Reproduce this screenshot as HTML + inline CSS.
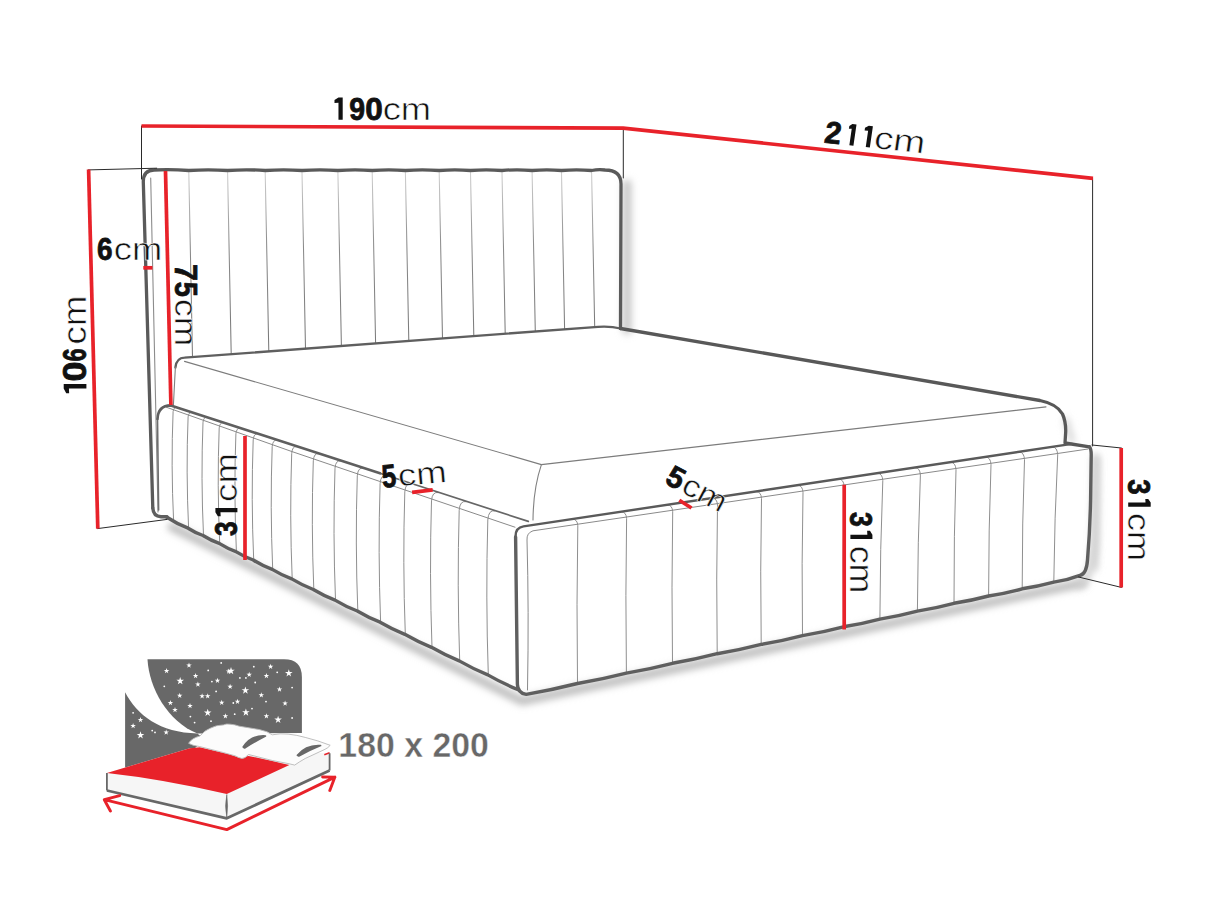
<!DOCTYPE html>
<html><head><meta charset="utf-8"><style>
html,body{margin:0;padding:0;background:#fff;width:1214px;height:911px;overflow:hidden}
svg{display:block}
</style></head><body>
<svg width="1214" height="911" viewBox="0 0 1214 911">
<defs><linearGradient id="hbg" gradientUnits="userSpaceOnUse" x1="0" y1="172" x2="0" y2="340"><stop offset="0" stop-color="#cfcfcf"/><stop offset="0.45" stop-color="#8a8a8a"/><stop offset="1" stop-color="#7a7a7a"/></linearGradient><filter id="blur" filterUnits="userSpaceOnUse" x="0" y="0" width="1214" height="911"><feGaussianBlur stdDeviation="3.5"/></filter>
<path id="st" d="M0,-1 L0.2245,-0.309 L0.9511,-0.309 L0.3633,0.118 L0.5878,0.809 L0,0.382 L-0.5878,0.809 L-0.3633,0.118 L-0.9511,-0.309 L-0.2245,-0.309 Z"/></defs>
<g filter="url(#blur)">
<path d="M172,527 L522,701 L1083,583" fill="none" stroke="#c0c0c0" stroke-width="9" stroke-linecap="round" stroke-linejoin="round" />
<path d="M627,184 L627,330" fill="none" stroke="#c8c8c8" stroke-width="9" stroke-linecap="round" stroke-linejoin="round" />
<path d="M1096,458 L1095,568" fill="none" stroke="#d4d4d4" stroke-width="6" stroke-linecap="round" stroke-linejoin="round" />
</g>
<path d="M188.8,172.5 L192.5,357.2" fill="none" stroke="url(#hbg)" stroke-width="1.05" stroke-linecap="round" stroke-linejoin="round" />
<path d="M227.6,172.5 L231.2,354.3" fill="none" stroke="url(#hbg)" stroke-width="1.05" stroke-linecap="round" stroke-linejoin="round" />
<path d="M265.2,172.5 L268.8,351.5" fill="none" stroke="url(#hbg)" stroke-width="1.05" stroke-linecap="round" stroke-linejoin="round" />
<path d="M302.0,172.5 L305.5,348.7" fill="none" stroke="url(#hbg)" stroke-width="1.05" stroke-linecap="round" stroke-linejoin="round" />
<path d="M337.9,172.5 L341.4,346.0" fill="none" stroke="url(#hbg)" stroke-width="1.05" stroke-linecap="round" stroke-linejoin="round" />
<path d="M372.2,172.5 L375.6,343.4" fill="none" stroke="url(#hbg)" stroke-width="1.05" stroke-linecap="round" stroke-linejoin="round" />
<path d="M405.4,172.5 L408.8,340.9" fill="none" stroke="url(#hbg)" stroke-width="1.05" stroke-linecap="round" stroke-linejoin="round" />
<path d="M439.2,172.5 L442.5,338.4" fill="none" stroke="url(#hbg)" stroke-width="1.05" stroke-linecap="round" stroke-linejoin="round" />
<path d="M470.5,172.5 L473.8,336.0" fill="none" stroke="url(#hbg)" stroke-width="1.05" stroke-linecap="round" stroke-linejoin="round" />
<path d="M502.0,172.5 L505.2,333.6" fill="none" stroke="url(#hbg)" stroke-width="1.05" stroke-linecap="round" stroke-linejoin="round" />
<path d="M532.1,172.5 L535.3,331.4" fill="none" stroke="url(#hbg)" stroke-width="1.05" stroke-linecap="round" stroke-linejoin="round" />
<path d="M561.5,172.5 L564.6,329.2" fill="none" stroke="url(#hbg)" stroke-width="1.05" stroke-linecap="round" stroke-linejoin="round" />
<path d="M591.6,172.5 L594.7,326.9" fill="none" stroke="url(#hbg)" stroke-width="1.05" stroke-linecap="round" stroke-linejoin="round" />
<path d="M150.7,178 L158,512" fill="none" stroke="#8c8c8c" stroke-width="1.1" stroke-linecap="round" stroke-linejoin="round" />
<path d="M152.8,508 L143.3,182 Q143.2,170.2 154,170 Q170.9,169.1 188.8,170.5 Q208.2,169.1 227.6,170.5 Q246.4,169.1 265.2,170.5 Q283.6,169.1 302.0,170.5 Q319.9,169.1 337.9,170.5 Q355.0,169.1 372.2,170.5 Q388.8,169.1 405.4,170.5 Q422.3,169.1 439.2,170.5 Q454.9,169.1 470.5,170.5 Q486.2,169.1 502.0,170.5 Q517.0,169.1 532.1,170.5 Q546.8,169.1 561.5,170.5 Q576.5,169.1 591.6,170.5 Q598.3,169.1 605.0,170 Q621,170 621,184 L620.5,328.5" fill="none" stroke="#5a5a5a" stroke-width="3.3" stroke-linecap="round" stroke-linejoin="round" />
<path d="M152.8,508 Q153.3,516.5 161,516.8 L167,516.8" fill="none" stroke="#5f5f5f" stroke-width="3.4" stroke-linecap="round" stroke-linejoin="round" />
<g filter="url(#blur)">
<path d="M1066,420 Q1070,436 1072,440" fill="none" stroke="#d6d6d6" stroke-width="6" stroke-linecap="round" stroke-linejoin="round" />
</g>
<path d="M175.4,367.5 Q176.5,357.9 184.5,357.7 L598,326.8 Q611,326 620.5,328.5" fill="none" stroke="#5f5f5f" stroke-width="2.3" stroke-linecap="round" stroke-linejoin="round" />
<path d="M620.5,328.5 L1040,400.5 Q1057,404 1062.5,414 Q1066,422 1065.7,432 L1065,443 L1089.5,446.9" fill="none" stroke="#585858" stroke-width="3.3" stroke-linecap="round" stroke-linejoin="round" />
<path d="M175.4,367 L173.4,405" fill="none" stroke="#808080" stroke-width="1.1" stroke-linecap="round" stroke-linejoin="round" />
<path d="M184.5,361.4 L541.4,464.6 L1046,406.9" fill="none" stroke="#7c7c7c" stroke-width="1.1" stroke-linecap="round" stroke-linejoin="round" />
<path d="M541.4,464.6 C536.5,479 533.2,500 533,520" fill="none" stroke="#808080" stroke-width="1.1" stroke-linecap="round" stroke-linejoin="round" />
<path d="M173.6,520.8 Q170.9,465.2 173.1,411.6 Q173.7,407.3 176.1,407.4" fill="none" stroke="#8f8f8f" stroke-width="1" stroke-linecap="round" stroke-linejoin="round" />
<path d="M188.6,528.2 Q185.9,471.5 188.1,416.9 Q188.7,412.2 191.4,412.4" fill="none" stroke="#8f8f8f" stroke-width="1" stroke-linecap="round" stroke-linejoin="round" />
<path d="M203.5,535.5 Q200.8,477.8 203.0,422.2 Q203.6,417.0 206.5,417.3" fill="none" stroke="#8f8f8f" stroke-width="1" stroke-linecap="round" stroke-linejoin="round" />
<path d="M219.7,543.4 Q217.0,484.6 219.2,427.9 Q219.8,422.3 222.9,422.6" fill="none" stroke="#8f8f8f" stroke-width="1" stroke-linecap="round" stroke-linejoin="round" />
<path d="M236.4,551.6 Q233.7,491.7 235.9,433.8 Q236.5,427.7 239.9,428.1" fill="none" stroke="#8f8f8f" stroke-width="1" stroke-linecap="round" stroke-linejoin="round" />
<path d="M253.7,560.0 Q251.0,499.0 253.2,439.9 Q253.8,433.3 257.4,433.8" fill="none" stroke="#8f8f8f" stroke-width="1" stroke-linecap="round" stroke-linejoin="round" />
<path d="M272.7,569.4 Q270.0,507.0 272.2,446.6 Q272.8,439.5 276.7,440.1" fill="none" stroke="#8f8f8f" stroke-width="1" stroke-linecap="round" stroke-linejoin="round" />
<path d="M292.2,578.9 Q289.5,515.2 291.7,453.5 Q292.3,445.8 296.5,446.5" fill="none" stroke="#8f8f8f" stroke-width="1" stroke-linecap="round" stroke-linejoin="round" />
<path d="M313.8,589.5 Q311.1,524.1 313.3,460.8 Q313.9,452.8 318.4,453.6" fill="none" stroke="#8f8f8f" stroke-width="1" stroke-linecap="round" stroke-linejoin="round" />
<path d="M335.5,600.1 Q332.8,533.1 335.0,468.2 Q335.6,459.9 340.5,460.8" fill="none" stroke="#8f8f8f" stroke-width="1" stroke-linecap="round" stroke-linejoin="round" />
<path d="M357.8,611.0 Q355.1,542.4 357.3,475.8 Q357.9,467.1 363.1,468.1" fill="none" stroke="#8f8f8f" stroke-width="1" stroke-linecap="round" stroke-linejoin="round" />
<path d="M380.6,622.2 Q377.9,551.9 380.1,483.5 Q380.7,474.5 386.3,475.6" fill="none" stroke="#8f8f8f" stroke-width="1" stroke-linecap="round" stroke-linejoin="round" />
<path d="M405.3,634.3 Q402.6,562.1 404.8,491.9 Q405.4,482.5 411.3,483.7" fill="none" stroke="#8f8f8f" stroke-width="1" stroke-linecap="round" stroke-linejoin="round" />
<path d="M432.0,647.3 Q429.3,573.1 431.5,500.9 Q432.1,491.2 438.4,492.5" fill="none" stroke="#8f8f8f" stroke-width="1" stroke-linecap="round" stroke-linejoin="round" />
<path d="M459.7,660.9 Q457.0,584.6 459.2,510.3 Q459.8,500.2 466.2,501.6" fill="none" stroke="#8f8f8f" stroke-width="1" stroke-linecap="round" stroke-linejoin="round" />
<path d="M488.3,674.9 Q485.6,596.5 487.8,520.0 Q488.4,509.5 494.8,510.8" fill="none" stroke="#8f8f8f" stroke-width="1" stroke-linecap="round" stroke-linejoin="round" />
<path d="M166,407.1 L290,450.9 L380,481.5 L515,527.2" fill="none" stroke="#8a8a8a" stroke-width="1" stroke-linecap="round" stroke-linejoin="round" />
<path d="M157.5,419 L158.6,510" fill="none" stroke="#6e6e6e" stroke-width="1.6" stroke-linecap="round" stroke-linejoin="round" />
<path d="M157.5,419 Q158,405.6 170.8,405.4 L380,473.3" fill="none" stroke="#5f5f5f" stroke-width="2.6" stroke-linecap="round" stroke-linejoin="round" />
<path d="M380,473.3 L528.3,521.4" fill="none" stroke="#666" stroke-width="1.7" stroke-linecap="round" stroke-linejoin="round" />
<path d="M166.5,517 Q177.3,524.1 188.1,528.2 Q195.6,533.0 203.0,535.5 Q211.1,540.6 219.2,543.4 Q227.6,548.7 235.9,551.6 Q244.6,557.0 253.2,560.0 Q262.7,565.9 272.2,569.4 Q281.9,575.3 291.7,578.9 Q302.5,585.4 313.3,589.5 Q324.1,596.0 335.0,600.1 Q346.1,606.8 357.3,611.0 Q368.7,617.8 380.1,622.2 Q392.5,629.4 404.8,634.3 Q418.1,642.0 431.5,647.3 Q445.4,655.3 459.2,660.9 Q473.5,669.1 487.8,674.9 Q502.6,683.4 517.5,689.4" fill="none" stroke="#5f5f5f" stroke-width="3.4" stroke-linecap="round" stroke-linejoin="round" />
<g filter="url(#blur)">
<path d="M1096,458 L1095,540 Q1093,575 1080,585" fill="none" stroke="#d0d0d0" stroke-width="7" stroke-linecap="round" stroke-linejoin="round" />
</g>
<path d="M577.5,683.5 Q576.4,603.8 577.8,525.7 Q577.4,519.2 572.8,519.2" fill="none" stroke="#8f8f8f" stroke-width="1" stroke-linecap="round" stroke-linejoin="round" />
<path d="M626.4,673.1 Q625.3,595.0 626.6,518.5 Q626.2,511.9 621.6,511.8" fill="none" stroke="#8f8f8f" stroke-width="1" stroke-linecap="round" stroke-linejoin="round" />
<path d="M672.5,663.3 Q671.4,586.7 672.7,511.7 Q672.3,505.0 667.7,504.9" fill="none" stroke="#8f8f8f" stroke-width="1" stroke-linecap="round" stroke-linejoin="round" />
<path d="M717.2,653.7 Q716.1,578.6 717.5,505.0 Q717.1,498.2 712.5,498.2" fill="none" stroke="#8f8f8f" stroke-width="1" stroke-linecap="round" stroke-linejoin="round" />
<path d="M761.2,644.4 Q760.1,570.7 761.5,498.5 Q761.1,491.6 756.5,491.6" fill="none" stroke="#8f8f8f" stroke-width="1" stroke-linecap="round" stroke-linejoin="round" />
<path d="M802.5,635.6 Q801.5,563.2 803.0,492.4 Q802.6,485.4 798.0,485.3" fill="none" stroke="#8f8f8f" stroke-width="1" stroke-linecap="round" stroke-linejoin="round" />
<path d="M843.5,626.8 Q842.6,555.8 844.1,486.3 Q843.7,479.2 839.1,479.1" fill="none" stroke="#8f8f8f" stroke-width="1" stroke-linecap="round" stroke-linejoin="round" />
<path d="M879.9,619.1 Q880.1,549.1 882.8,480.6 Q882.4,473.4 877.8,473.3" fill="none" stroke="#8f8f8f" stroke-width="1" stroke-linecap="round" stroke-linejoin="round" />
<path d="M917.4,611.1 Q917.7,542.3 920.4,475.1 Q920.0,467.7 915.4,467.7" fill="none" stroke="#8f8f8f" stroke-width="1" stroke-linecap="round" stroke-linejoin="round" />
<path d="M954.0,603.3 Q953.8,535.8 956.0,469.8 Q955.6,462.4 951.0,462.3" fill="none" stroke="#8f8f8f" stroke-width="1" stroke-linecap="round" stroke-linejoin="round" />
<path d="M988.6,596.0 Q988.6,529.6 991.0,464.6 Q990.6,457.1 986.0,457.1" fill="none" stroke="#8f8f8f" stroke-width="1" stroke-linecap="round" stroke-linejoin="round" />
<path d="M1022.2,588.8 Q1022.1,523.5 1024.5,459.7 Q1024.1,452.1 1019.5,452.0" fill="none" stroke="#8f8f8f" stroke-width="1" stroke-linecap="round" stroke-linejoin="round" />
<path d="M1053.8,582.1 Q1054.5,517.7 1057.7,454.8 Q1057.3,447.1 1052.7,447.0" fill="none" stroke="#8f8f8f" stroke-width="1" stroke-linecap="round" stroke-linejoin="round" />
<path d="M527.5,690 Q529,610 527,540 Q526.5,533 533,530.8 L1088,449" fill="none" stroke="#8a8a8a" stroke-width="1" stroke-linecap="round" stroke-linejoin="round" />
<path d="M515.6,537 Q515.2,527.6 523.5,526.4 L1072,443.9" fill="none" stroke="#5a5a5a" stroke-width="2.4" stroke-linecap="round" stroke-linejoin="round" />
<path d="M1089.5,446.9 Q1091.4,449 1091.2,456 L1090.6,500 Q1090,530 1087.5,560 Q1086.5,574 1080,575.3 Q1066.9,580.3 1053.8,582.1 Q1038.0,586.4 1022.2,588.8 Q1005.4,593.4 988.6,596.0 Q971.3,600.6 954.0,603.3 Q935.7,608.2 917.4,611.1 Q898.6,616.1 879.9,619.1 Q861.7,624.0 843.5,626.8 Q823.0,632.2 802.5,635.6 Q781.9,641.0 761.2,644.4 Q739.2,650.1 717.2,653.7 Q694.9,659.5 672.5,663.3 Q649.5,669.2 626.4,673.1 Q602.0,679.3 577.5,683.5 Q551.9,689.9 526.2,694.4 Q517.6,693 517.4,684.4 L515.6,537" fill="none" stroke="#5f5f5f" stroke-width="3.4" stroke-linecap="round" stroke-linejoin="round" />
<path d="M141.5,126 L141.5,179" fill="none" stroke="#2a2a2a" stroke-width="1" stroke-linecap="round" stroke-linejoin="round" />
<path d="M623.3,128.3 L623.3,178" fill="none" stroke="#2a2a2a" stroke-width="1" stroke-linecap="round" stroke-linejoin="round" />
<path d="M1092.6,178.3 L1092.6,446" fill="none" stroke="#2a2a2a" stroke-width="1" stroke-linecap="round" stroke-linejoin="round" />
<path d="M88.3,169.9 L156.7,168.2" fill="none" stroke="#2a2a2a" stroke-width="1" stroke-linecap="round" stroke-linejoin="round" />
<path d="M97.6,528.6 L167.1,519.4" fill="none" stroke="#2a2a2a" stroke-width="1" stroke-linecap="round" stroke-linejoin="round" />
<path d="M1092,445 L1121.4,448" fill="none" stroke="#2a2a2a" stroke-width="1" stroke-linecap="round" stroke-linejoin="round" />
<path d="M1078.5,577 L1121.4,587.4" fill="none" stroke="#2a2a2a" stroke-width="1" stroke-linecap="round" stroke-linejoin="round" />
<path d="M141.5,126 L623.2,128.2 L1093,178.3" fill="none" stroke="#e8222a" stroke-width="3.7" stroke-linejoin="miter"/>
<path d="M88.6,169.5 L97.8,528.6" fill="none" stroke="#e8222a" stroke-width="3.7" stroke-linejoin="miter"/>
<path d="M165.5,171 L170.9,405" fill="none" stroke="#e8222a" stroke-width="3.7" stroke-linejoin="miter"/>
<path d="M143.3,267.8 L152.5,267.8" fill="none" stroke="#e8222a" stroke-width="3.7" stroke-linejoin="miter"/>
<path d="M245,436 L245,560" fill="none" stroke="#e8222a" stroke-width="3.7" stroke-linejoin="miter"/>
<path d="M412.1,492.4 L432.7,489.9" fill="none" stroke="#e8222a" stroke-width="3.7" stroke-linejoin="miter"/>
<path d="M679.3,500.3 L691.5,508" fill="none" stroke="#e8222a" stroke-width="3.7" stroke-linejoin="miter"/>
<path d="M844.2,484.7 L844.2,629.6" fill="none" stroke="#e8222a" stroke-width="3.7" stroke-linejoin="miter"/>
<path d="M1121.2,448 L1121.2,587.4" fill="none" stroke="#e8222a" stroke-width="3.7" stroke-linejoin="miter"/>
<path transform="translate(334.50,119.80) rotate(0) translate(0.00,0)" d="M0,-19.76 L3.98,-22.20 L8.20,-22.20 L8.20,0 L3.98,0 L3.98,-17.09 L0,-16.87 Z" fill="#111"/>
<text transform="translate(334.50,119.80) rotate(0) translate(15.80,0) scale(0.8961,1) translate(-1.10,0)" x="0" y="0" font-family="Liberation Sans, sans-serif" font-weight="bold" font-size="31.79" fill="#111" stroke="#111" stroke-width="0.8" stroke-linejoin="round">9</text>
<text transform="translate(334.50,119.80) rotate(0) translate(31.90,0) scale(0.9920,1) translate(-1.26,0)" x="0" y="0" font-family="Liberation Sans, sans-serif" font-weight="bold" font-size="31.79" fill="#111" stroke="#111" stroke-width="0.8" stroke-linejoin="round">0</text>
<text transform="translate(334.50,119.80) rotate(0) translate(49.70,0) scale(1.1850,1) translate(-1.30,0)" x="0" y="0" font-family="Liberation Sans, sans-serif" font-weight="normal" font-size="30.66" fill="#111" stroke="#fff" stroke-width="0.55" paint-order="normal">cm</text>
<text transform="translate(824.20,142.60) rotate(6.2) skewX(-2) translate(0.20,0) scale(0.9602,1) translate(-1.07,0)" x="0" y="0" font-family="Liberation Sans, sans-serif" font-weight="bold" font-size="30.93" fill="#111" stroke="#111" stroke-width="0.8" stroke-linejoin="round">2</text>
<path transform="translate(824.20,142.60) rotate(6.2) skewX(-2) translate(22.50,0)" d="M0,-19.22 L2.80,-21.60 L6.90,-21.60 L6.90,0 L2.80,0 L2.80,-16.63 L0,-16.42 Z" fill="#111"/>
<path transform="translate(824.20,142.60) rotate(6.2) skewX(-2) translate(38.30,0)" d="M0,-19.22 L3.50,-21.60 L7.60,-21.60 L7.60,0 L3.50,0 L3.50,-16.63 L0,-16.42 Z" fill="#111"/>
<text transform="translate(824.20,142.60) rotate(6.2) skewX(-2) translate(50.60,0) scale(1.2293,1) translate(-1.33,0)" x="0" y="0" font-family="Liberation Sans, sans-serif" font-weight="normal" font-size="31.22" fill="#111" stroke="#fff" stroke-width="0.55" paint-order="normal">cm</text>
<text transform="translate(97.90,260.20) rotate(0) translate(0.00,0) scale(0.8705,1) translate(-1.17,0)" x="0" y="0" font-family="Liberation Sans, sans-serif" font-weight="bold" font-size="32.08" fill="#111" stroke="#111" stroke-width="0.8" stroke-linejoin="round">6</text>
<text transform="translate(97.90,260.20) rotate(0) translate(17.50,0) scale(1.1850,1) translate(-1.30,0)" x="0" y="0" font-family="Liberation Sans, sans-serif" font-weight="normal" font-size="30.66" fill="#111" stroke="#fff" stroke-width="0.55" paint-order="normal">cm</text>
<text transform="translate(175.40,265.40) rotate(90) translate(0.00,0) scale(0.9752,1) translate(-1.34,0)" x="0" y="0" font-family="Liberation Sans, sans-serif" font-weight="bold" font-size="31.25" fill="#111" stroke="#111" stroke-width="0.8" stroke-linejoin="round">7</text>
<text transform="translate(175.40,265.40) rotate(90) translate(17.10,0) scale(0.8682,1) translate(-0.96,0)" x="0" y="0" font-family="Liberation Sans, sans-serif" font-weight="bold" font-size="31.25" fill="#111" stroke="#111" stroke-width="0.8" stroke-linejoin="round">5</text>
<text transform="translate(175.40,265.40) rotate(90) translate(35.20,0) scale(1.1087,1) translate(-1.36,0)" x="0" y="0" font-family="Liberation Sans, sans-serif" font-weight="normal" font-size="31.97" fill="#111" stroke="#fff" stroke-width="0.55" paint-order="normal">cm</text>
<path transform="translate(86.40,393.30) rotate(-90) translate(0.00,0)" d="M0,-20.20 L4.89,-22.70 L9.20,-22.70 L9.20,0 L4.89,0 L4.89,-17.48 L0,-17.25 Z" fill="#111"/>
<text transform="translate(86.40,393.30) rotate(-90) translate(13.20,0) scale(1.1060,1) translate(-1.29,0)" x="0" y="0" font-family="Liberation Sans, sans-serif" font-weight="bold" font-size="32.51" fill="#111" stroke="#111" stroke-width="0.8" stroke-linejoin="round">0</text>
<text transform="translate(86.40,393.30) rotate(-90) translate(32.90,0) scale(0.7127,1) translate(-1.19,0)" x="0" y="0" font-family="Liberation Sans, sans-serif" font-weight="bold" font-size="32.51" fill="#111" stroke="#111" stroke-width="0.8" stroke-linejoin="round">6</text>
<text transform="translate(86.40,393.30) rotate(-90) translate(50.10,0) scale(1.1399,1) translate(-1.38,0)" x="0" y="0" font-family="Liberation Sans, sans-serif" font-weight="normal" font-size="32.52" fill="#111" stroke="#fff" stroke-width="0.55" paint-order="normal">cm</text>
<text transform="translate(237.40,535.50) rotate(-90) translate(0.00,0) scale(0.8364,1) translate(-0.72,0)" x="0" y="0" font-family="Liberation Sans, sans-serif" font-weight="bold" font-size="31.51" fill="#111" stroke="#111" stroke-width="0.8" stroke-linejoin="round">3</text>
<path transform="translate(237.40,535.50) rotate(-90) translate(19.20,0)" d="M0,-19.58 L4.02,-22.00 L8.20,-22.00 L8.20,0 L4.02,0 L4.02,-16.94 L0,-16.72 Z" fill="#111"/>
<text transform="translate(237.40,535.50) rotate(-90) translate(35.10,0) scale(1.1983,1) translate(-1.30,0)" x="0" y="0" font-family="Liberation Sans, sans-serif" font-weight="normal" font-size="30.66" fill="#111" stroke="#fff" stroke-width="0.55" paint-order="normal">cm</text>
<text transform="translate(383.60,487.60) rotate(-5.2) translate(0.00,0) scale(0.7972,1) translate(-0.99,0)" x="0" y="0" font-family="Liberation Sans, sans-serif" font-weight="bold" font-size="32.27" fill="#111" stroke="#111" stroke-width="0.8" stroke-linejoin="round">5</text>
<text transform="translate(383.60,487.60) rotate(-5.2) translate(16.80,0) scale(1.1983,1) translate(-1.30,0)" x="0" y="0" font-family="Liberation Sans, sans-serif" font-weight="normal" font-size="30.66" fill="#111" stroke="#fff" stroke-width="0.55" paint-order="normal">cm</text>
<text transform="translate(664.50,483.30) rotate(28) translate(0.00,0) scale(0.9886,1) translate(-0.93,0)" x="0" y="0" font-family="Liberation Sans, sans-serif" font-weight="bold" font-size="30.09" fill="#111" stroke="#111" stroke-width="0.8" stroke-linejoin="round">5</text>
<text transform="translate(664.50,483.30) rotate(28) translate(18.70,0) scale(1.1318,1) translate(-1.30,0)" x="0" y="0" font-family="Liberation Sans, sans-serif" font-weight="normal" font-size="30.66" fill="#111" stroke="#fff" stroke-width="0.55" paint-order="normal">cm</text>
<text transform="translate(850.40,512.60) rotate(90) translate(0.00,0) scale(0.8428,1) translate(-0.72,0)" x="0" y="0" font-family="Liberation Sans, sans-serif" font-weight="bold" font-size="31.51" fill="#111" stroke="#111" stroke-width="0.8" stroke-linejoin="round">3</text>
<path transform="translate(850.40,512.60) rotate(90) translate(18.10,0)" d="M0,-19.58 L4.12,-22.00 L8.30,-22.00 L8.30,0 L4.12,0 L4.12,-16.94 L0,-16.72 Z" fill="#111"/>
<text transform="translate(850.40,512.60) rotate(90) translate(34.60,0) scale(1.1086,1) translate(-1.37,0)" x="0" y="0" font-family="Liberation Sans, sans-serif" font-weight="normal" font-size="32.34" fill="#111" stroke="#fff" stroke-width="0.55" paint-order="normal">cm</text>
<text transform="translate(1128.20,479.90) rotate(90) translate(0.00,0) scale(0.8553,1) translate(-0.74,0)" x="0" y="0" font-family="Liberation Sans, sans-serif" font-weight="bold" font-size="32.22" fill="#111" stroke="#111" stroke-width="0.8" stroke-linejoin="round">3</text>
<path transform="translate(1128.20,479.90) rotate(90) translate(19.20,0)" d="M0,-20.02 L3.42,-22.50 L7.70,-22.50 L7.70,0 L3.42,0 L3.42,-17.32 L0,-17.10 Z" fill="#111"/>
<text transform="translate(1128.20,479.90) rotate(90) translate(34.60,0) scale(1.1476,1) translate(-1.34,0)" x="0" y="0" font-family="Liberation Sans, sans-serif" font-weight="normal" font-size="31.59" fill="#111" stroke="#fff" stroke-width="0.55" paint-order="normal">cm</text>
<text transform="translate(340.50,757.10) rotate(0) translate(0.00,0) scale(0.9526,1) translate(-2.24,0)" x="0" y="0" font-family="Liberation Sans, sans-serif" font-weight="bold" font-size="35.52" fill="#686868" stroke="#fff" stroke-width="0.4">180 x 200</text>
<path d="M147.5,659.2 L284,659.2 Q301.9,659.2 301.9,677 L301.9,733 L197.4,733.4 C168,722 149,688 147.5,659.2 Z" fill="#686868"/>
<path d="M125.1,692.3 C137,715 160,733 197.4,733.4 L205,740 L195,748 L125.1,768 Z" fill="#686868"/>
<use href="#st" transform="translate(189.0,665.3) scale(2.9)" fill="#fff"/>
<circle cx="221.2" cy="662.9" r="0.9" fill="#fff"/>
<use href="#st" transform="translate(166.6,670.9) scale(2.9)" fill="#fff"/>
<circle cx="208.2" cy="670.4" r="0.9" fill="#fff"/>
<use href="#st" transform="translate(228.7,671.3) scale(2.9)" fill="#fff"/>
<use href="#st" transform="translate(180.2,681.1) scale(4.0)" fill="#fff"/>
<use href="#st" transform="translate(195.6,676) scale(2.9)" fill="#fff"/>
<use href="#st" transform="translate(197.9,684.4) scale(2.9)" fill="#fff"/>
<use href="#st" transform="translate(217.5,680.7) scale(2.9)" fill="#fff"/>
<circle cx="211.9" cy="681.6" r="0.9" fill="#fff"/>
<circle cx="164.3" cy="686.3" r="0.9" fill="#fff"/>
<circle cx="216.1" cy="691.4" r="0.9" fill="#fff"/>
<use href="#st" transform="translate(179.7,695.6) scale(2.9)" fill="#fff"/>
<use href="#st" transform="translate(202.1,696.1) scale(2.9)" fill="#fff"/>
<use href="#st" transform="translate(207.7,696.1) scale(2.9)" fill="#fff"/>
<use href="#st" transform="translate(170.4,703) scale(2.9)" fill="#fff"/>
<use href="#st" transform="translate(221.7,702.6) scale(2.9)" fill="#fff"/>
<use href="#st" transform="translate(190,705.8) scale(2.9)" fill="#fff"/>
<use href="#st" transform="translate(175,710) scale(2.9)" fill="#fff"/>
<use href="#st" transform="translate(207.7,712.8) scale(4.0)" fill="#fff"/>
<circle cx="190.4" cy="716.6" r="0.9" fill="#fff"/>
<use href="#st" transform="translate(225.4,716.1) scale(2.9)" fill="#fff"/>
<circle cx="194.6" cy="722.6" r="0.9" fill="#fff"/>
<circle cx="211" cy="721.2" r="0.9" fill="#fff"/>
<circle cx="133.1" cy="712.8" r="0.9" fill="#fff"/>
<use href="#st" transform="translate(140.5,719.8) scale(2.9)" fill="#fff"/>
<use href="#st" transform="translate(133.1,725.9) scale(2.9)" fill="#fff"/>
<circle cx="152.2" cy="730.6" r="0.9" fill="#fff"/>
<circle cx="155" cy="732.4" r="0.9" fill="#fff"/>
<use href="#st" transform="translate(166.2,732.4) scale(2.9)" fill="#fff"/>
<use href="#st" transform="translate(140.5,735.2) scale(4.0)" fill="#fff"/>
<use href="#st" transform="translate(231,670.9) scale(4.0)" fill="#fff"/>
<circle cx="253.8" cy="666.7" r="0.9" fill="#fff"/>
<use href="#st" transform="translate(270.6,666.7) scale(2.9)" fill="#fff"/>
<circle cx="277.2" cy="672.3" r="0.9" fill="#fff"/>
<use href="#st" transform="translate(288.8,673.2) scale(4.0)" fill="#fff"/>
<use href="#st" transform="translate(249.2,674.6) scale(2.9)" fill="#fff"/>
<circle cx="239.9" cy="677.9" r="0.9" fill="#fff"/>
<circle cx="245.9" cy="677.9" r="0.9" fill="#fff"/>
<use href="#st" transform="translate(266.4,676) scale(2.9)" fill="#fff"/>
<circle cx="255.2" cy="682.5" r="0.9" fill="#fff"/>
<use href="#st" transform="translate(230.1,686.7) scale(2.9)" fill="#fff"/>
<use href="#st" transform="translate(245.4,690.4) scale(4.0)" fill="#fff"/>
<use href="#st" transform="translate(279.5,689.5) scale(2.9)" fill="#fff"/>
<circle cx="292.1" cy="687.6" r="0.9" fill="#fff"/>
<use href="#st" transform="translate(261.3,695.1) scale(2.9)" fill="#fff"/>
<circle cx="233.3" cy="703" r="0.9" fill="#fff"/>
<use href="#st" transform="translate(237.5,701.6) scale(2.9)" fill="#fff"/>
<circle cx="266" cy="701.6" r="0.9" fill="#fff"/>
<use href="#st" transform="translate(285.1,703.5) scale(2.9)" fill="#fff"/>
<circle cx="252" cy="708.6" r="0.9" fill="#fff"/>
<use href="#st" transform="translate(245.9,712.4) scale(4.0)" fill="#fff"/>
<circle cx="234.7" cy="714.2" r="0.9" fill="#fff"/>
<use href="#st" transform="translate(266.4,716.1) scale(2.9)" fill="#fff"/>
<use href="#st" transform="translate(278.1,719.8) scale(4.0)" fill="#fff"/>
<circle cx="292.1" cy="718" r="0.9" fill="#fff"/>
<path d="M106.9,773 L189.7,748.2 L329.6,753.2 L329.6,770.4 L226.8,818.3 L106.9,790.5 Z" fill="#f6f6f6"/>
<path d="M106.9,773 L189.7,748.2 L199.8,747.3 L230.1,754.5 L239.3,757.8 L248.5,755.9 L272.3,761.1 L289.4,765.1 L226.8,794 Q162,779 106.9,773 Z" fill="#e8222a"/>
<path d="M324.3,754.8 L329.6,752.8" stroke="#e8222a" stroke-width="1.5"/>
<path d="M106.9,790.5 L226.8,818.3 L329.6,770.4" fill="none" stroke="#686868" stroke-width="2.8" stroke-linejoin="round"/>
<path d="M106.9,773 L106.9,790.5 M329.6,770.4 L329.6,753.2" fill="none" stroke="#686868" stroke-width="1.8"/>
<path d="M226.8,794.5 Q224.4,806 226.8,817.5 Q228.4,806 226.8,794.5 Z" fill="#686868" stroke="#686868" stroke-width="0.6"/>
<path d="M188.6,743.3 Q192,738 199.8,736.1 Q205,730 210.3,728.2 Q216,725 223.5,724.9 Q226,723.6 230.1,724.2 Q235,724.5 239.3,726.2 L259.1,729.5 Q267,731 272.3,734.8 Q280,733.2 288.1,734.1 Q297,735 305.2,737.4 Q318,740.5 330.2,745.3 Q328,748 325,749.3 L305.2,758.5 Q299,762 294.7,765.1 Q292,764.5 289.4,763.8 L272.3,760.5 L248.5,754.5 Q245,758.6 241.9,758.5 Q238,757.5 235.4,755.9 L223.5,752.6 L199.8,746.6 Q192,745.5 188.6,743.3 Z" fill="#fcfcfc" stroke="#b8b8b8" stroke-width="0.9"/>
<path d="M243.2,747 Q251,735 265.5,736 Q253,742.5 244.6,748 Z" fill="#686868" stroke="#686868" stroke-width="1.6" stroke-linejoin="round"/>
<path d="M297.4,755.3 Q306,744.6 320.6,745.6 Q308,750.8 298.8,756 Z" fill="#686868" stroke="#686868" stroke-width="1.6" stroke-linejoin="round"/>
<path d="M104.3,799.7 L226.8,829.6 L334.9,777.1 M119.7,795.6 L104.3,799.7 L110.4,811 M322.6,777 L334.9,777.1 L329.8,790.5" fill="none" stroke="#e8222a" stroke-width="2.9" stroke-linejoin="round" stroke-linecap="round"/>
</svg></body></html>
